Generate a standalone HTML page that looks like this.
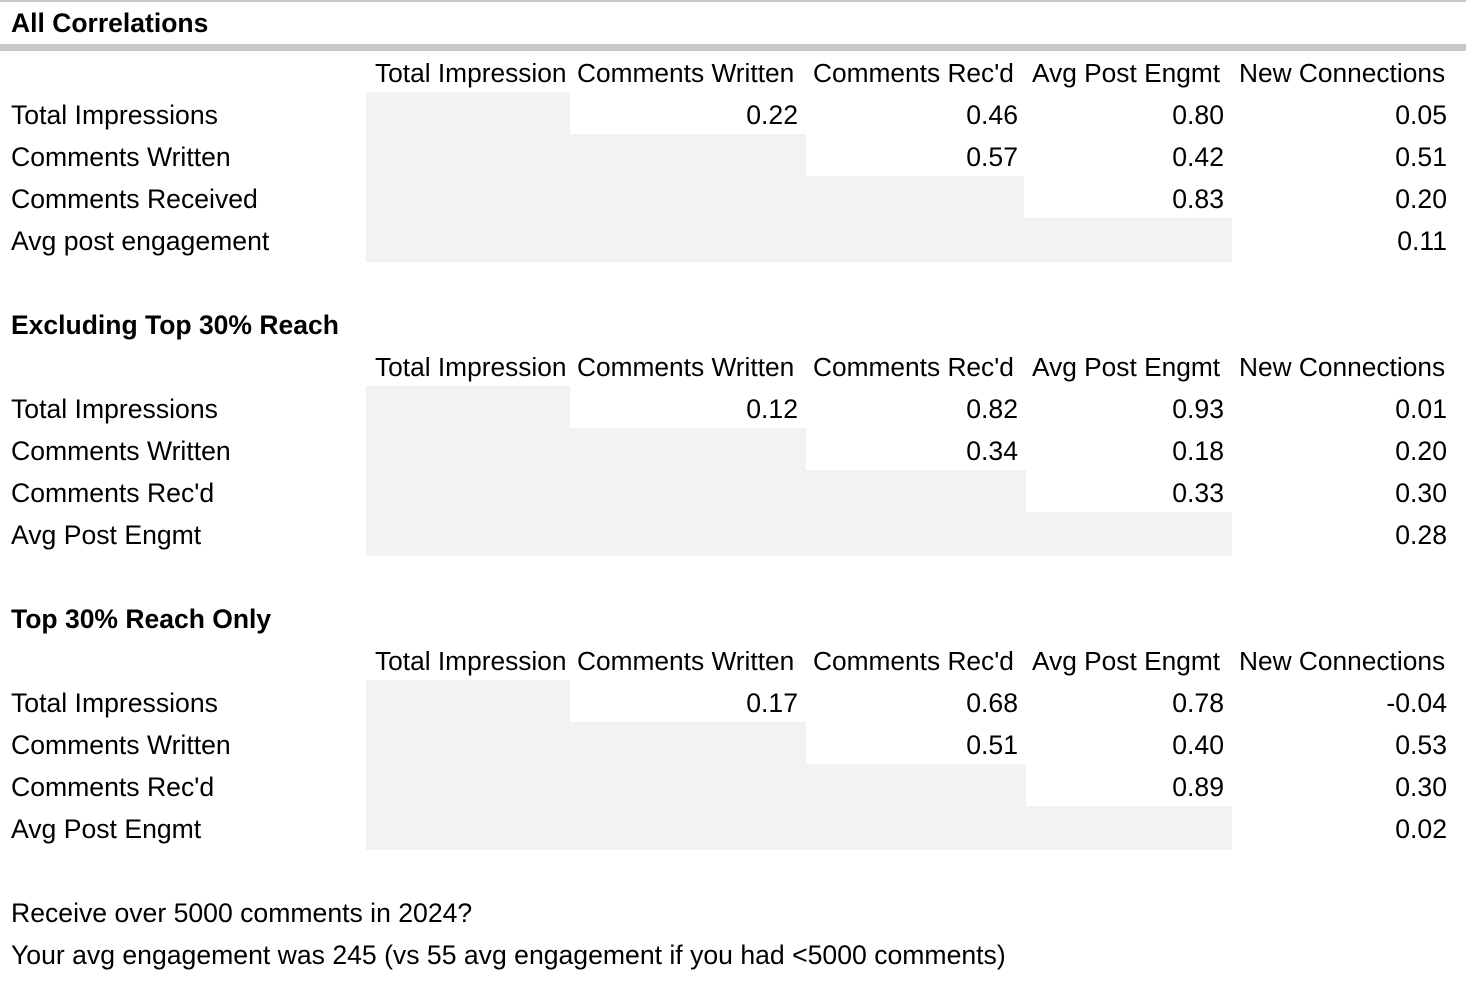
<!DOCTYPE html>
<html><head><meta charset="utf-8"><style>
body{margin:0;width:1466px;height:986px;background:#fff;position:relative;overflow:hidden;font-family:"Liberation Sans",Arial,sans-serif;font-size:26.6px;color:#000}
div{position:absolute;white-space:nowrap;line-height:30px;height:30px}
.g{background:#f2f2f2;height:auto}
.b{font-weight:bold;font-size:26.5px}
.l{left:11px}
.h{font-size:26.3px}
.c1{right:668px}.c2{right:448px}.c3{right:242px}.c4{right:19px}
</style></head><body>
<div style="left:0;top:0;width:1466px;height:2px;background:#c8c8c8"></div>
<div style="left:0;top:44px;width:1466px;height:7px;background:#c8c8c8"></div>

<div class="g" style="left:366px;top:92px;width:204px;height:42px"></div>
<div class="g" style="left:366px;top:134px;width:440px;height:42px"></div>
<div class="g" style="left:366px;top:176px;width:658px;height:42px"></div>
<div class="g" style="left:366px;top:218px;width:866px;height:44px"></div>

<div class="g" style="left:366px;top:386px;width:204px;height:42px"></div>
<div class="g" style="left:366px;top:428px;width:440px;height:42px"></div>
<div class="g" style="left:366px;top:470px;width:660px;height:42px"></div>
<div class="g" style="left:366px;top:512px;width:866px;height:44px"></div>

<div class="g" style="left:366px;top:680px;width:204px;height:42px"></div>
<div class="g" style="left:366px;top:722px;width:440px;height:42px"></div>
<div class="g" style="left:366px;top:764px;width:660px;height:42px"></div>
<div class="g" style="left:366px;top:806px;width:866px;height:44px"></div>

<div class="b l" style="top:8px">All Correlations</div>
<div class="h" style="left:375px;top:58px">Total Impression</div>
<div class="h" style="left:577px;top:58px">Comments Written</div>
<div class="h" style="left:813px;top:58px">Comments Rec'd</div>
<div class="h" style="left:1032px;top:58px">Avg Post Engmt</div>
<div class="h" style="left:1239px;top:58px">New Connections</div>
<div class="l" style="top:100px">Total Impressions</div>
<div class="c1" style="top:100px">0.22</div><div class="c2" style="top:100px">0.46</div><div class="c3" style="top:100px">0.80</div><div class="c4" style="top:100px">0.05</div>
<div class="l" style="top:142px">Comments Written</div>
<div class="c2" style="top:142px">0.57</div><div class="c3" style="top:142px">0.42</div><div class="c4" style="top:142px">0.51</div>
<div class="l" style="top:184px">Comments Received</div>
<div class="c3" style="top:184px">0.83</div><div class="c4" style="top:184px">0.20</div>
<div class="l" style="top:226px">Avg post engagement</div>
<div class="c4" style="top:226px">0.11</div>

<div class="b l" style="top:310px">Excluding Top 30% Reach</div>
<div class="h" style="left:375px;top:352px">Total Impression</div>
<div class="h" style="left:577px;top:352px">Comments Written</div>
<div class="h" style="left:813px;top:352px">Comments Rec'd</div>
<div class="h" style="left:1032px;top:352px">Avg Post Engmt</div>
<div class="h" style="left:1239px;top:352px">New Connections</div>
<div class="l" style="top:394px">Total Impressions</div>
<div class="c1" style="top:394px">0.12</div><div class="c2" style="top:394px">0.82</div><div class="c3" style="top:394px">0.93</div><div class="c4" style="top:394px">0.01</div>
<div class="l" style="top:436px">Comments Written</div>
<div class="c2" style="top:436px">0.34</div><div class="c3" style="top:436px">0.18</div><div class="c4" style="top:436px">0.20</div>
<div class="l" style="top:478px">Comments Rec'd</div>
<div class="c3" style="top:478px">0.33</div><div class="c4" style="top:478px">0.30</div>
<div class="l" style="top:520px">Avg Post Engmt</div>
<div class="c4" style="top:520px">0.28</div>

<div class="b l" style="top:604px">Top 30% Reach Only</div>
<div class="h" style="left:375px;top:646px">Total Impression</div>
<div class="h" style="left:577px;top:646px">Comments Written</div>
<div class="h" style="left:813px;top:646px">Comments Rec'd</div>
<div class="h" style="left:1032px;top:646px">Avg Post Engmt</div>
<div class="h" style="left:1239px;top:646px">New Connections</div>
<div class="l" style="top:688px">Total Impressions</div>
<div class="c1" style="top:688px">0.17</div><div class="c2" style="top:688px">0.68</div><div class="c3" style="top:688px">0.78</div><div class="c4" style="top:688px">-0.04</div>
<div class="l" style="top:730px">Comments Written</div>
<div class="c2" style="top:730px">0.51</div><div class="c3" style="top:730px">0.40</div><div class="c4" style="top:730px">0.53</div>
<div class="l" style="top:772px">Comments Rec'd</div>
<div class="c3" style="top:772px">0.89</div><div class="c4" style="top:772px">0.30</div>
<div class="l" style="top:814px">Avg Post Engmt</div>
<div class="c4" style="top:814px">0.02</div>

<div class="l" style="top:898px">Receive over 5000 comments in 2024?</div>
<div class="l" style="top:940px">Your avg engagement was 245 (vs 55 avg engagement if you had &lt;5000 comments)</div>
</body></html>
